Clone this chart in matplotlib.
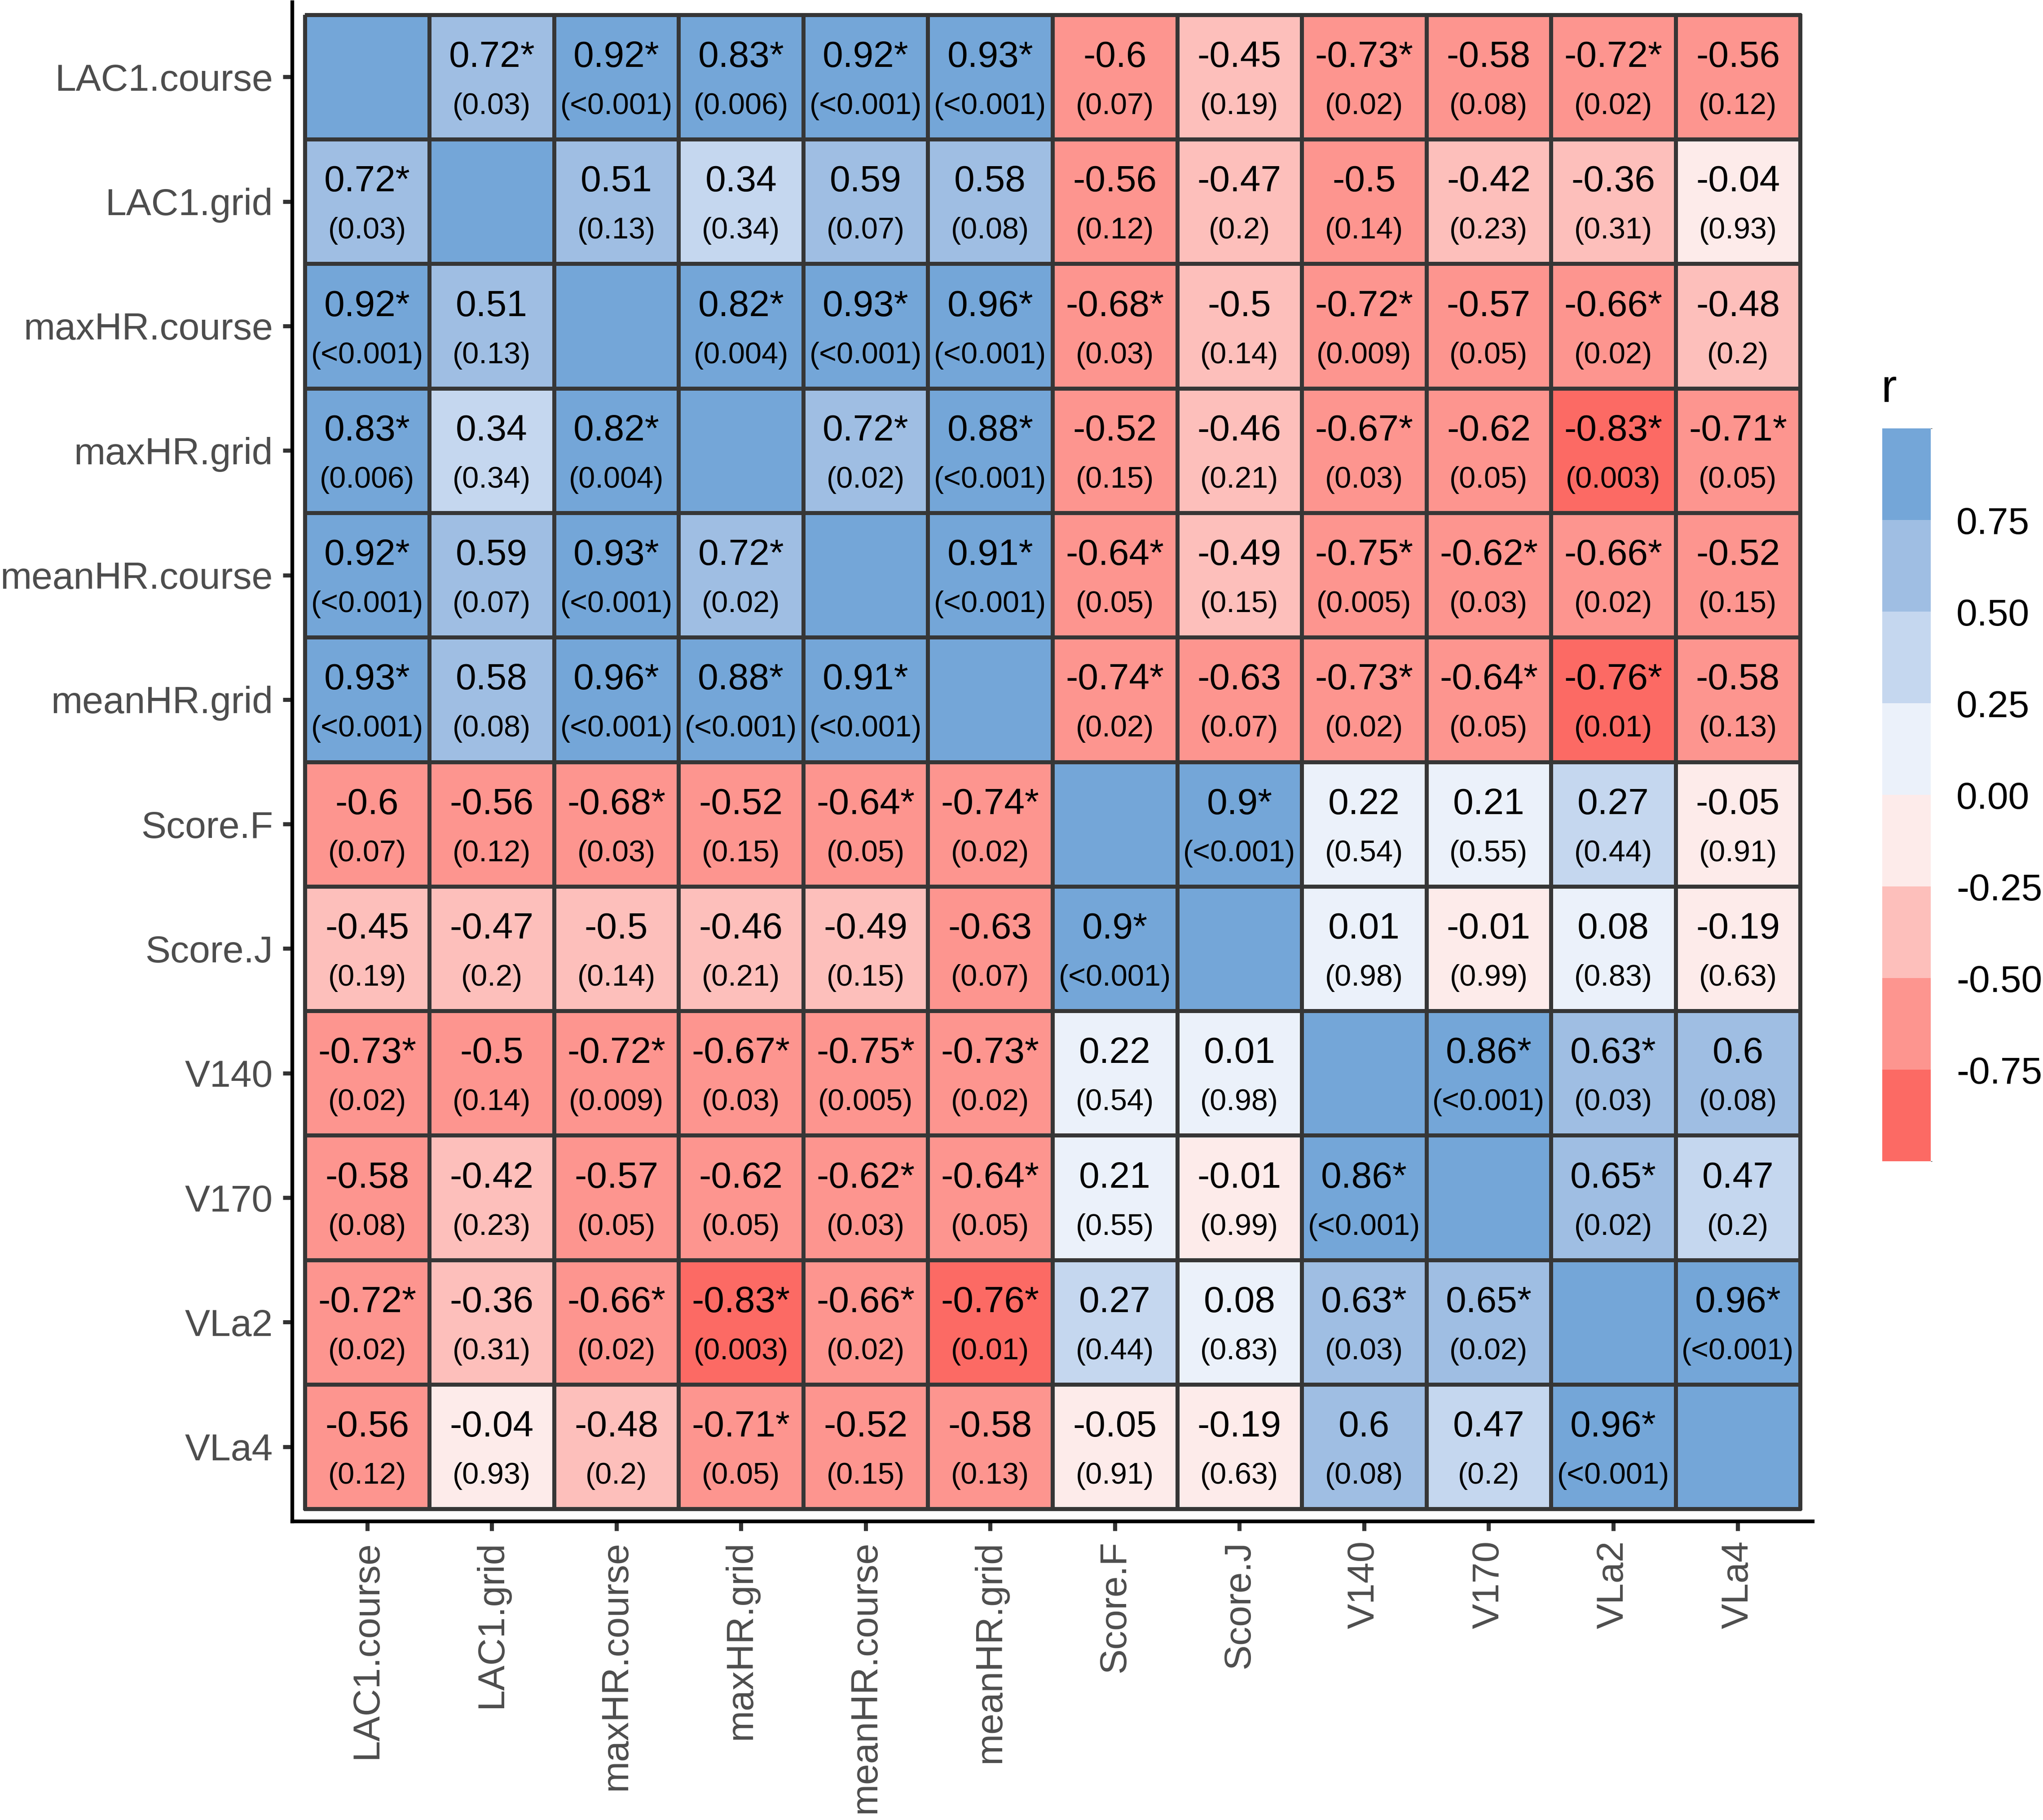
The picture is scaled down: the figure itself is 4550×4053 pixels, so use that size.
import numpy as np
import matplotlib
matplotlib.use('Agg')
import matplotlib.pyplot as plt
from matplotlib.colors import ListedColormap, BoundaryNorm

plt.rcParams['font.family'] = ['Liberation Sans', 'DejaVu Sans']
plt.rcParams['axes.unicode_minus'] = False

variables = ["LAC1.course", "LAC1.grid", "maxHR.course", "maxHR.grid",
             "meanHR.course", "meanHR.grid", "Score.F", "Score.J",
             "V140", "V170", "VLa2", "VLa4"]

# upper triangle of the correlation matrix, row i holds columns i+1..n-1
r_upper = [
    [0.72, 0.92, 0.83, 0.92, 0.93, -0.60, -0.45, -0.73, -0.58, -0.72, -0.56],
    [0.51, 0.34, 0.59, 0.58, -0.56, -0.47, -0.504, -0.42, -0.36, -0.04],
    [0.82, 0.93, 0.96, -0.68, -0.497, -0.72, -0.57, -0.66, -0.48],
    [0.72, 0.88, -0.52, -0.46, -0.67, -0.62, -0.83, -0.71],
    [0.91, -0.64, -0.49, -0.748, -0.62, -0.66, -0.52],
    [-0.74, -0.63, -0.73, -0.64, -0.76, -0.58],
    [0.90, 0.22, 0.21, 0.27, -0.05],
    [0.01, -0.01, 0.08, -0.19],
    [0.86, 0.63, 0.60],
    [0.65, 0.47],
    [0.96],
]

# p-values, same layout (0.0005 stands for <0.001)
p_upper = [
    [0.03, 0.0005, 0.006, 0.0005, 0.0005, 0.07, 0.19, 0.02, 0.08, 0.02, 0.12],
    [0.13, 0.34, 0.07, 0.08, 0.12, 0.2, 0.14, 0.23, 0.31, 0.93],
    [0.004, 0.0005, 0.0005, 0.03, 0.14, 0.009, 0.052, 0.02, 0.2],
    [0.02, 0.0005, 0.15, 0.21, 0.03, 0.054, 0.003, 0.048],
    [0.0005, 0.046, 0.15, 0.005, 0.03, 0.02, 0.15],
    [0.02, 0.07, 0.02, 0.047, 0.012, 0.13],
    [0.0005, 0.54, 0.55, 0.44, 0.91],
    [0.98, 0.99, 0.83, 0.63],
    [0.0005, 0.03, 0.08],
    [0.02, 0.2],
    [0.0005],
]

bin_colors = ["#FC6A64", "#FD958F", "#FDBFBB", "#FDEBEA",
              "#EBF1FA", "#C5D7EF", "#9FBEE3", "#74A6D8"]
bounds = np.linspace(-1, 1, 9)
cbar_ticks = [-0.75, -0.5, -0.25, 0.0, 0.25, 0.5, 0.75]


def fmt_r(v):
    return '%g' % round(v, 2)


def fmt_p(v):
    if v < 0.001:
        return '(<0.001)'
    if v < 0.01:
        return '(%.3f)' % v
    return '(%g)' % round(v, 2)


n = len(variables)
r = np.eye(n)
p = np.full((n, n), np.nan)
for i, row in enumerate(r_upper):
    for k, v in enumerate(row):
        j = i + 1 + k
        r[i, j] = r[j, i] = v
        p[i, j] = p[j, i] = p_upper[i][k]

W, H = 4550, 4053
fig = plt.figure(figsize=(W / 100, H / 100), dpi=100)
ax = fig.add_axes([651 / W, 1 - 3388 / H, 3386 / W, 3383 / H])

cmap = ListedColormap(bin_colors)
norm = BoundaryNorm(bounds, cmap.N, clip=True)
edges = np.arange(n + 1) - 0.5
mesh = ax.pcolormesh(edges, edges, r, cmap=cmap, norm=norm,
                     edgecolors='#363636', linewidth=6.3)

for i in range(n):
    for j in range(n):
        if i == j:
            continue
        star = '*' if p[i, j] < 0.05 else ''
        ax.text(j, i - 0.081, fmt_r(r[i, j]) + star, ha='center', va='baseline',
                fontsize=59, color='black')
        ax.text(j, i + 0.298, fmt_p(p[i, j]), ha='center', va='baseline',
                fontsize=48, color='black')

ax.set_xlim(-0.6, n - 1 + 0.6)
ax.set_ylim(n - 1 + 0.6, -0.6)
ax.set_xticks(range(n))
ax.set_xticklabels(variables, rotation=90, ha='center', va='top')
ax.set_yticks(range(n))
ax.set_yticklabels(variables)
ax.tick_params(length=15, width=6.5, color='#333333', labelcolor='#4D4D4D',
               labelsize=60.5, pad=16)
for side in ['top', 'right']:
    ax.spines[side].set_visible(False)
for side in ['left', 'bottom']:
    ax.spines[side].set_linewidth(6)
    ax.spines[side].set_color('black')

# legend (binned colour bar)
cax = fig.add_axes([4192 / W, 1 - 2586 / H, 108 / W, 1632 / H])
cb = fig.colorbar(mesh, cax=cax, boundaries=bounds, ticks=cbar_ticks)
cb.outline.set_visible(False)
cb.ax.set_yticklabels(['%.2f' % t for t in cbar_ticks])
cb.ax.tick_params(length=0, pad=41, labelsize=60.5, labelcolor='black')
fig.text(4190 / W, 1 - 895 / H, 'r', fontsize=75, ha='left', va='baseline')

fig.savefig('out.png', dpi=100)
